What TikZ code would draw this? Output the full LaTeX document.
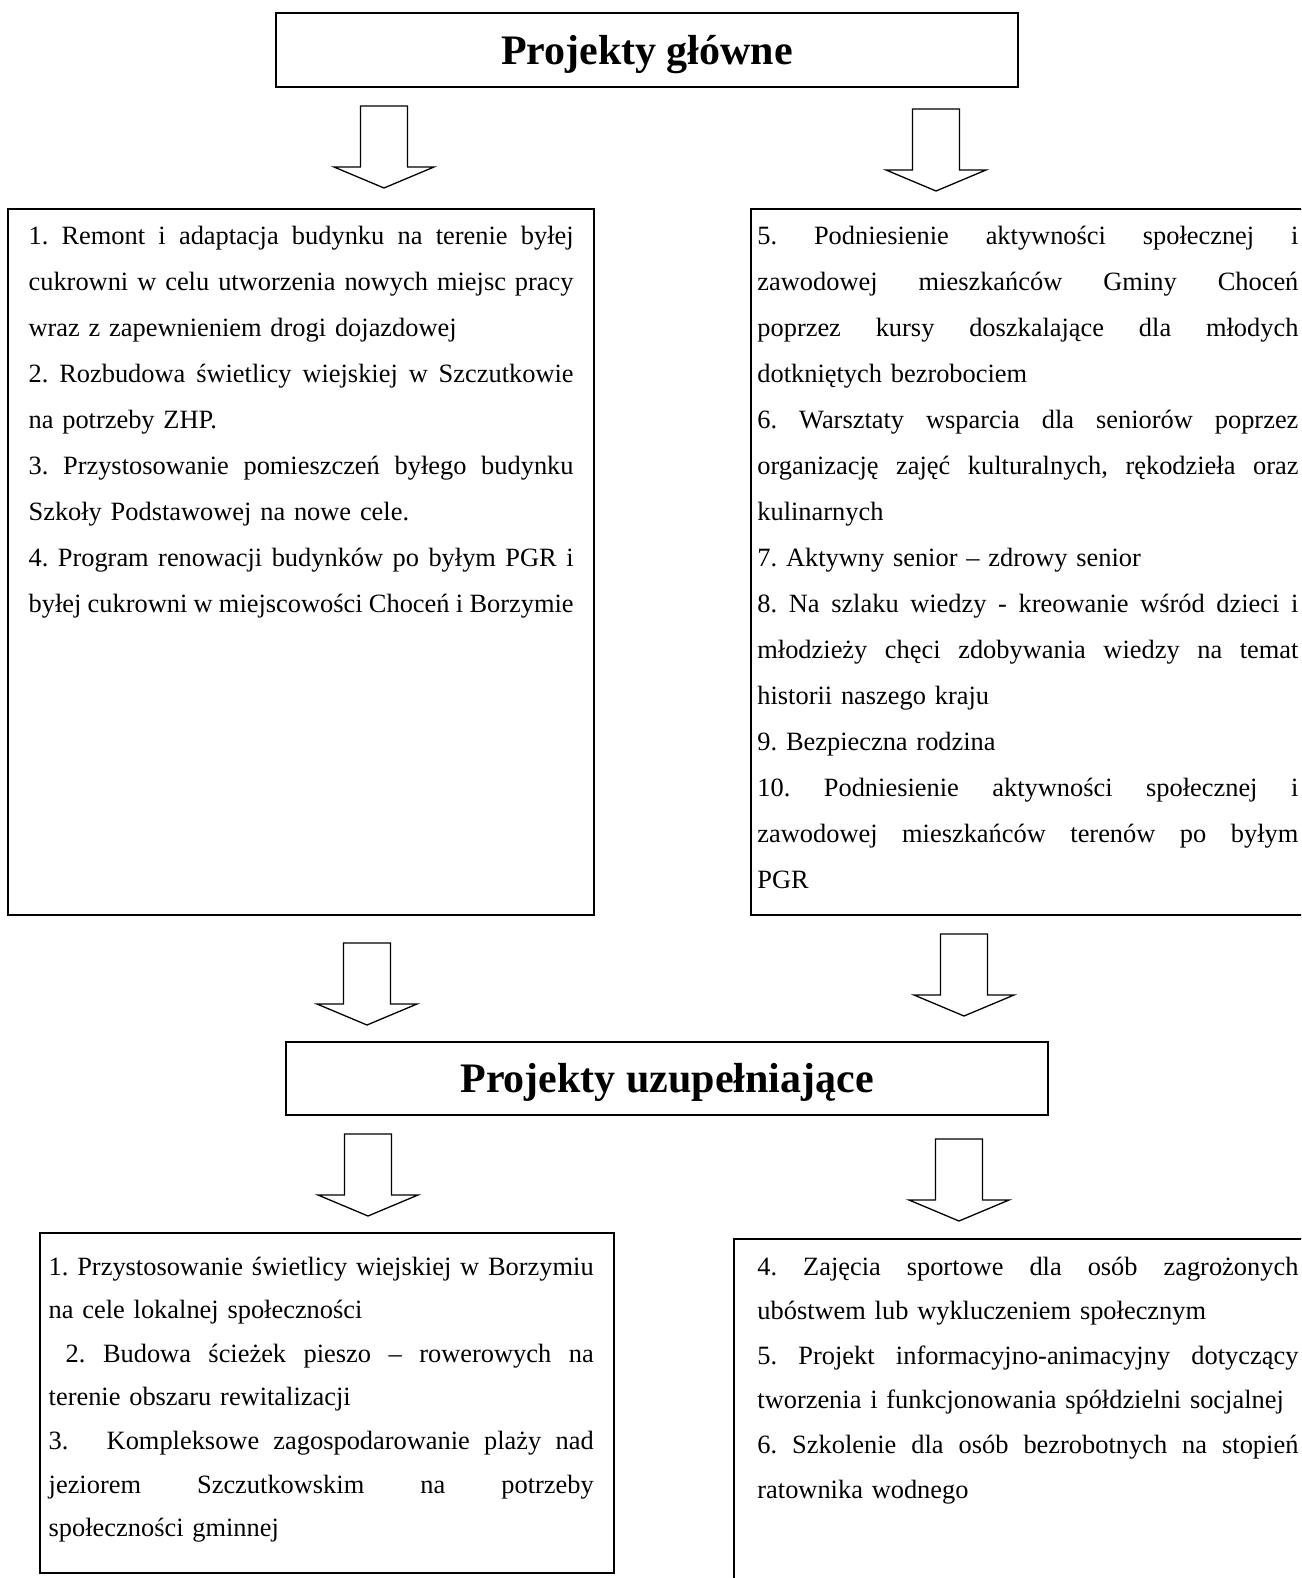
\documentclass[tikz,border=0pt]{standalone}
\usepackage{fontspec}
\setmainfont{Liberation Serif}
\ExplSyntaxOn
\seq_new:N \l_jl_words_seq
\NewDocumentCommand\jl{m}{
  \mode_leave_vertical:
  \seq_set_split:Nnn \l_jl_words_seq {~} {#1}
  \hbox_to_wd:nn {\hsize} { \seq_use:Nn \l_jl_words_seq { \hskip 0.25em plus 1fil minus 0.1em } }
}
\ExplSyntaxOff
\begin{document}
\begin{tikzpicture}[x=0.5pt,y=-0.5pt,
  box/.style={draw, line width=1pt, inner sep=0pt, outer sep=0pt},
  bodytext/.style={anchor=base west, inner sep=0pt, align=left},
  toptext/.style={bodytext, font=\fontsize{13.2pt}{23pt}\selectfont\frenchspacing},
  bottext/.style={bodytext, font=\fontsize{13.2pt}{21.8pt}\selectfont\frenchspacing},
  brtext/.style={bodytext, font=\fontsize{13.2pt}{22.3pt}\selectfont\frenchspacing},
  titletext/.style={font=\fontsize{21pt}{25pt}\selectfont\bfseries},
  barrowline/.style={draw, line width=0.65pt, fill=white, line join=miter},
  pics/barrow/.style={code={\draw[barrowline] (-23.5,0) -- (23.5,0) -- (23.5,61) -- (50,61) -- (0,82) -- (-50,61) -- (-23.5,61) -- cycle;}}]

\useasboundingbox (0,0) rectangle (1301,1578);
\clip (0,0) rectangle (1301,1578);

% boxes
\node[box, minimum width=371pt, minimum height=37pt] (main) at (647,50) {};
\node[titletext, yshift=-2.5pt] (maintitle) at (main.center) {Projekty główne};

\node[box, minimum width=293pt, minimum height=353pt] (lbox) at (301,562) {};
\node[box, minimum width=289.5pt, minimum height=353pt] (rbox) at (1040.5,562) {};

\node[box, minimum width=381pt, minimum height=36.5pt] (supp) at (667,1078.5) {};
\node[titletext, yshift=-2pt] (supptitle) at (supp.center) {Projekty uzupełniające};

\node[box, minimum width=287pt, minimum height=170pt] (blbox) at (327,1403) {};
\node[box, minimum width=298pt, minimum height=180.5pt] (brbox) at (1032,1419.5) {};

% block arrows
\pic at (384,106) {barrow};
\pic at (936,109) {barrow};
\pic at (367,943) {barrow};
\pic at (964,934) {barrow};
\pic at (368,1134) {barrow};
\pic at (959,1139) {barrow};

% texts
\node[toptext, text width=272.5pt] (ltext) at (28.2,244.5) {%
\jl{1. Remont i adaptacja budynku na terenie byłej}\\
\jl{cukrowni w celu utworzenia nowych miejsc pracy}\\
wraz z zapewnieniem drogi dojazdowej\\
\jl{2. Rozbudowa świetlicy wiejskiej w Szczutkowie}\\
na potrzeby ZHP.\\
\jl{3. Przystosowanie pomieszczeń byłego budynku}\\
Szkoły Podstawowej na nowe cele.\\
\jl{4. Program renowacji budynków po byłym PGR i}\\
\jl{byłej cukrowni w miejscowości Choceń i Borzymie}};

\node[toptext, text width=270.5pt] (rtext) at (757,244.5) {%
\jl{5. Podniesienie aktywności społecznej i}\\
\jl{zawodowej mieszkańców Gminy Choceń}\\
\jl{poprzez kursy doszkalające dla młodych}\\
dotkniętych bezrobociem\\
\jl{6. Warsztaty wsparcia dla seniorów poprzez}\\
\jl{organizację zajęć kulturalnych, rękodzieła oraz}\\
kulinarnych\\
7. Aktywny senior – zdrowy senior\\
\jl{8. Na szlaku wiedzy - kreowanie wśród dzieci i}\\
\jl{młodzieży chęci zdobywania wiedzy na temat}\\
historii naszego kraju\\
9. Bezpieczna rodzina\\
\jl{10. Podniesienie aktywności społecznej i}\\
\jl{zawodowej mieszkańców terenów po byłym}\\
PGR};

\node[bottext, text width=272.5pt] (bltext) at (48.3,1275) {%
\jl{1. Przystosowanie świetlicy wiejskiej w Borzymiu}\\
na cele lokalnej społeczności\\
\jl{\hspace{8.5pt}2. Budowa ścieżek pieszo – rowerowych na}\\
terenie obszaru rewitalizacji\\
\jl{3.\hspace{12pt} Kompleksowe zagospodarowanie plaży nad}\\
\jl{jeziorem Szczutkowskim na potrzeby}\\
społeczności gminnej};

\node[brtext, text width=270.5pt] (brtext) at (757,1275) {%
\jl{4. Zajęcia sportowe dla osób zagrożonych}\\
ubóstwem lub wykluczeniem społecznym\\
\jl{5. Projekt informacyjno-animacyjny dotyczący}\\
tworzenia i funkcjonowania spółdzielni socjalnej\\
\jl{6. Szkolenie dla osób bezrobotnych na stopień}\\
ratownika wodnego};
\end{tikzpicture}
\end{document}
